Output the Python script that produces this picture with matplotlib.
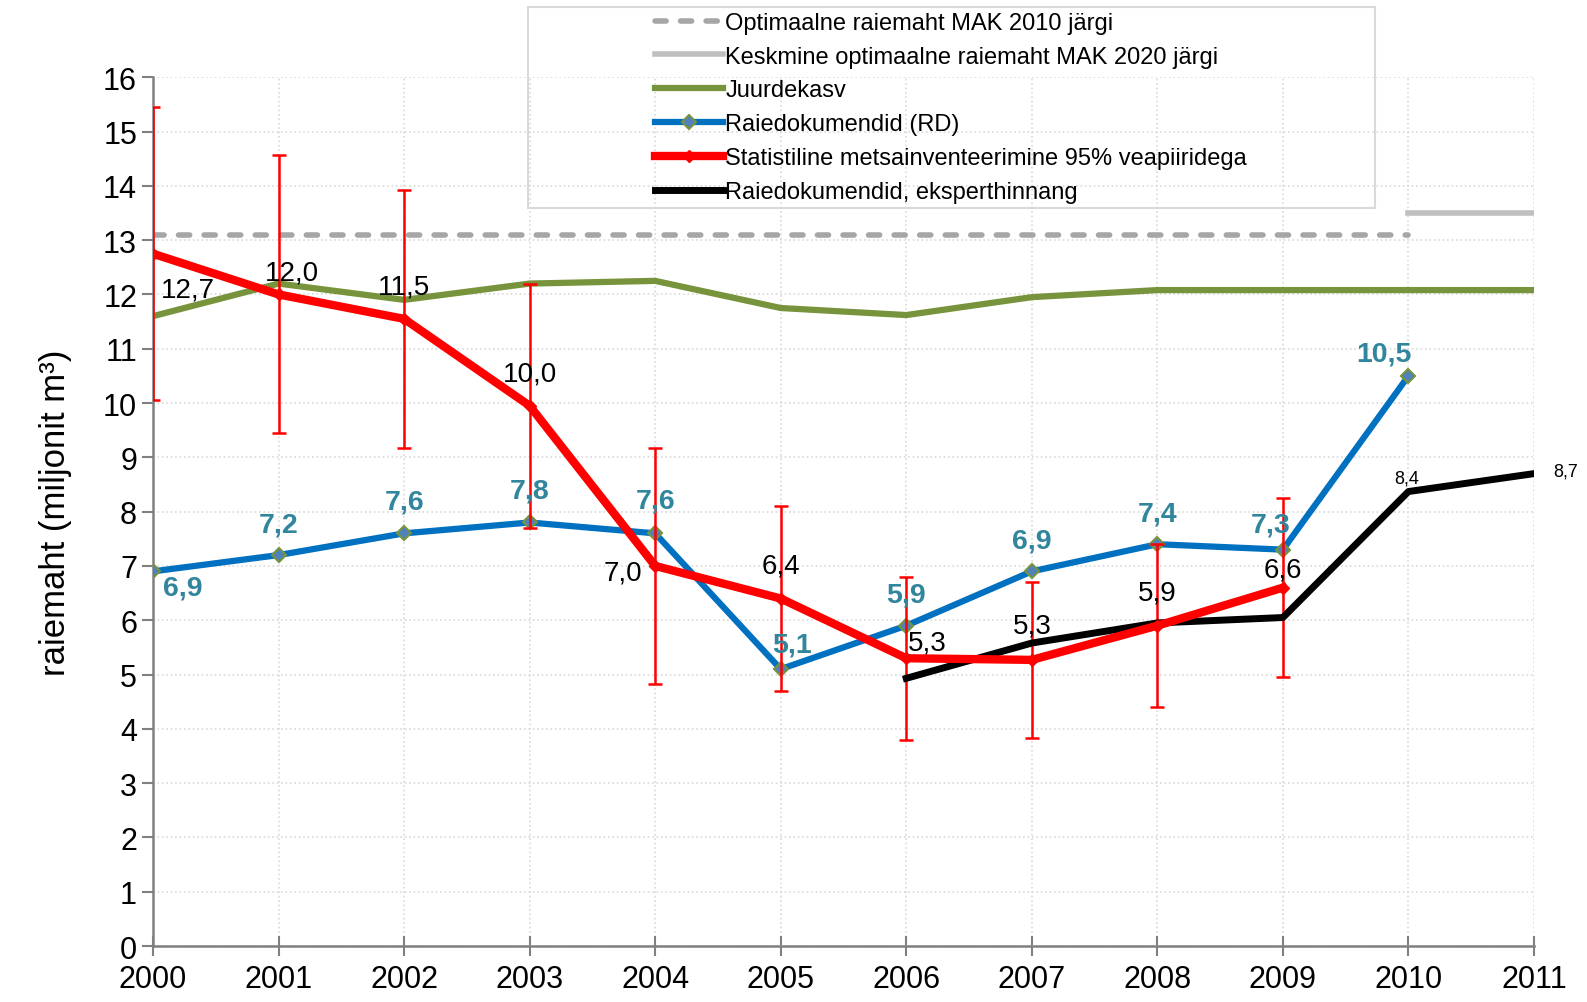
import numpy as np
import matplotlib
matplotlib.use("Agg")
import matplotlib.pyplot as plt
from matplotlib.patches import Rectangle

plt.rcParams['font.family'] = ['Liberation Sans', 'DejaVu Sans']

# Data
years = [2000, 2001, 2002, 2003, 2004, 2005, 2006, 2007, 2008, 2009, 2010, 2011]
juurdekasv = [11.6, 12.2, 11.9, 12.2, 12.25, 11.75, 11.62, 11.95, 12.08, 12.08, 12.08, 12.08]
opt_years = [2000, 2010]
opt_mak2010 = [13.1, 13.1]
kesk_years = [2010, 2011]
kesk_mak2020 = [13.5, 13.5]

rd_years = years[:11]
rd = [6.9, 7.2, 7.6, 7.8, 7.6, 5.1, 5.9, 6.9, 7.4, 7.3, 10.5]

smi_years = years[:10]
smi = [12.75, 12.0, 11.55, 9.95, 7.0, 6.4, 5.3, 5.27, 5.9, 6.6]
smi_err = [2.7, 2.56, 2.38, 2.25, 2.18, 1.7, 1.5, 1.43, 1.5, 1.65]
smi_labels = ['12,7', '12,0', '11,5', '10,0', '7,0', '6,4', '5,3', '5,3', '5,9', '6,6']

eksp_years = [2006, 2007, 2008, 2009, 2010, 2011]
eksp = [4.93, 5.58, 5.95, 6.05, 8.37, 8.7]

# label offsets (pixels)
smi_off = [(35, -36), (13, 22), (0, 32), (0, 32), (-32, -7), (0, 33), (21, 16), (0, 34), (0, 33), (0, 18)]
rd_off = [(30, -16), (0, 31), (0, 32), (0, 32), (0, 33), (11, 25), (0, 31), (0, 31), (0, 31), (-12, 25), (-25, 22)]
eksp_off = [(-2, 14), (32, 3)]

fig = plt.figure(figsize=(15.87, 10.03), dpi=100)
ax = fig.add_axes([0.0964, 0.0558, 0.8702, 0.8662])

ax.plot(opt_years, opt_mak2010, color='#A6A6A6', lw=4, ls=(0, (2.0, 2.6)), solid_capstyle='round',
        dash_capstyle='round', label='Optimaalne raiemaht MAK 2010 järgi', zorder=3)
ax.plot(kesk_years, kesk_mak2020, color='#BFBFBF', lw=4, label='Keskmine optimaalne raiemaht MAK 2020 järgi', zorder=3)
ax.plot(years, juurdekasv, color='#77933C', lw=4.5, label='Juurdekasv', zorder=3)
ax.plot(rd_years, rd, color='#0070C0', lw=4.5, marker='D', ms=7, mfc='#4F81BD', mec='#77933C', mew=1.5,
        label='Raiedokumendid (RD)', zorder=4)
ax.errorbar(smi_years, smi, yerr=smi_err, fmt='none', ecolor='#FF0000', elinewidth=1.8, capsize=5, capthick=1.8, zorder=5)
ax.plot(smi_years, smi, color='#FF0000', lw=6, marker='D', ms=6, mfc='#FF0000', mec='#FF0000',
        label='Statistiline metsainventeerimine 95% veapiiridega', zorder=6)
ax.plot(eksp_years, eksp, color='black', lw=5, label='Raiedokumendid, eksperthinnang', zorder=5)

for x, y, t, o in zip(smi_years, smi, smi_labels, smi_off):
    ax.annotate(t, (x, y), xytext=o, textcoords='offset pixels', ha='center', va='center', fontsize=20, zorder=7)
for x, y, o in zip(rd_years, rd, rd_off):
    ax.annotate(f'{y:.1f}'.replace('.', ','), (x, y), xytext=o, textcoords='offset pixels', ha='center', va='center',
                fontsize=20.5, fontweight='bold', color='#31859C', zorder=7)
for x, y, o in zip(eksp_years[-2:], eksp[-2:], eksp_off):
    ax.annotate(f'{y:.1f}'.replace('.', ','), (x, y), xytext=o, textcoords='offset pixels', ha='center', va='center',
                fontsize=13, zorder=7)

ax.set_xlim(2000, 2011)
ax.set_ylim(0, 16)
ax.set_xticks(years)
ax.set_yticks(range(17))
ax.tick_params(axis='both', labelsize=22, colors='#808080', labelcolor='black', length=8, width=1.5)
ax.tick_params(axis='x', direction='inout', length=14, pad=6)
ax.grid(True, color='#D9D9D9', ls=':', lw=1.2)
for s in ['top', 'right']:
    ax.spines[s].set_visible(False)
for s in ['left', 'bottom']:
    ax.spines[s].set_color('#808080')
    ax.spines[s].set_linewidth(1.8)
ax.set_ylabel('raiemaht (miljonit m³)', fontsize=25, labelpad=22)

fig.patches.append(Rectangle((0.333, 0.792), 0.5335, 0.2, transform=fig.transFigure, fill=False,
                             edgecolor='#D9D9D9', lw=1.5, zorder=0))
fig.legend(loc='upper left', bbox_to_anchor=(0.405, 0.999), frameon=False, fontsize=17,
           handlelength=2.9, handletextpad=0.1, labelspacing=0.5, borderpad=0.0)

fig.savefig('out.png', dpi=100)
